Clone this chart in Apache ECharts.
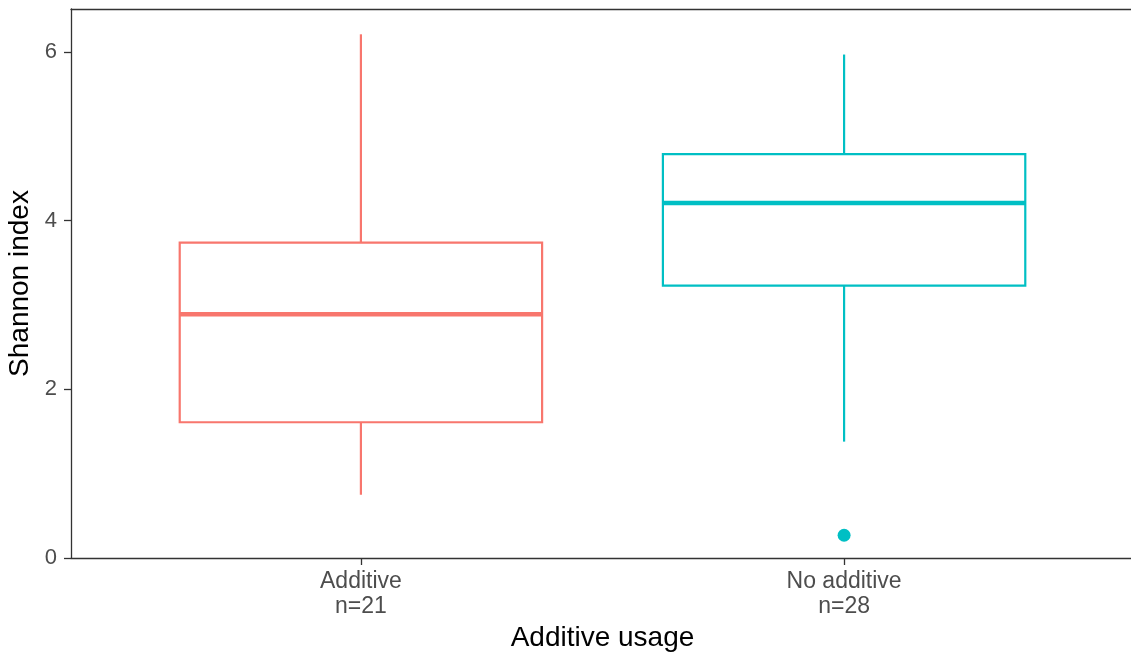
<!DOCTYPE html>
<html>
<head>
<meta charset="utf-8">
<script src="https://cdn.jsdelivr.net/npm/echarts@6/dist/echarts.min.js"></script>
<style>html,body{margin:0;padding:0;background:#fff;}#c{width:1131px;height:655px;}</style>
</head>
<body>
<div id="c"></div>
<script>
var categories = ['Additive', 'No additive'];
var counts = [21, 28];
var colors = ['#F8766D', '#00BFC4'];
// [lower whisker, Q1, median, Q3, upper whisker]
var boxStats = [
  [0.75, 1.61, 2.89, 3.74, 6.21],
  [1.38, 3.23, 4.21, 4.79, 5.97]
];
// outliers: [category index, value]
var outliers = [[1, 0.27]];
var yTicks = [0, 2, 4, 6];

var chart = echarts.init(document.getElementById('c'), null, {renderer: 'canvas'});
var fontFam = '"Liberation Sans", Arial, sans-serif';

var boxData = boxStats.map(function (s, i) { return [i + 1].concat(s); });

function renderBox(params, api) {
  var x = api.value(0);
  var lo = api.value(1), q1 = api.value(2), med = api.value(3), q3 = api.value(4), hi = api.value(5);
  var col = colors[params.dataIndex];
  var w = api.size([0.75, 0])[0];
  var pLo = api.coord([x, lo]), pQ1 = api.coord([x, q1]), pMed = api.coord([x, med]),
      pQ3 = api.coord([x, q3]), pHi = api.coord([x, hi]);
  var cx = pMed[0];
  return {
    type: 'group',
    children: [
      {type: 'line', shape: {x1: cx, y1: pLo[1], x2: cx, y2: pQ1[1]}, style: {stroke: col, lineWidth: 2.2}},
      {type: 'line', shape: {x1: cx, y1: pQ3[1], x2: cx, y2: pHi[1]}, style: {stroke: col, lineWidth: 2.2}},
      {type: 'rect', shape: {x: cx - w / 2, y: pQ3[1], width: w, height: pQ1[1] - pQ3[1]},
        style: {fill: '#ffffff', stroke: col, lineWidth: 2.2}},
      {type: 'line', shape: {x1: cx - w / 2, y1: pMed[1], x2: cx + w / 2, y2: pMed[1]}, style: {stroke: col, lineWidth: 4.5}}
    ]
  };
}

chart.setOption({
  animation: false,
  backgroundColor: '#ffffff',
  grid: {left: 71, right: -3, top: 9, bottom: 97, containLabel: false, outerBoundsMode: 'none'},
  xAxis: [{
    type: 'value', min: 0.4, max: 2.6, position: 'bottom',
    axisLine: {show: true, lineStyle: {color: '#333333', width: 1.3}},
    axisTick: {show: true, customValues: [1, 2], length: 7, lineStyle: {color: '#333333', width: 1.3}},
    axisLabel: {show: true, customValues: [1, 2], margin: 11, color: '#4d4d4d', fontSize: 23, fontFamily: fontFam, lineHeight: 25,
      formatter: function (v) { var i = Math.round(v) - 1; return categories[i] + '\nn=' + counts[i]; }},
    splitLine: {show: false},
    name: 'Additive usage', nameLocation: 'middle', nameGap: 66,
    nameTextStyle: {color: '#000000', fontSize: 28, fontFamily: fontFam}
  }, {
    type: 'value', min: 0.4, max: 2.6, position: 'top',
    axisLine: {show: true, lineStyle: {color: '#333333', width: 1.3}},
    axisTick: {show: false}, axisLabel: {show: false}, splitLine: {show: false}
  }],
  yAxis: {
    type: 'value', min: 0, max: 6.51,
    axisLine: {show: true, lineStyle: {color: '#333333', width: 1.3}},
    axisTick: {show: true, customValues: yTicks, length: 7, lineStyle: {color: '#333333', width: 1.3}},
    axisLabel: {show: true, customValues: yTicks, margin: 14, color: '#4d4d4d', fontSize: 22, fontFamily: fontFam},
    splitLine: {show: false},
    name: 'Shannon index', nameLocation: 'middle', nameGap: 32,
    nameTextStyle: {color: '#000000', fontSize: 28, fontFamily: fontFam}
  },
  series: [{
    type: 'custom', xAxisIndex: 0, yAxisIndex: 0,
    renderItem: renderBox,
    encode: {x: 0, y: [1, 2, 3, 4, 5]},
    data: boxData,
    clip: false
  }, {
    type: 'scatter', xAxisIndex: 0, yAxisIndex: 0,
    symbol: 'circle', symbolSize: 13,
    itemStyle: {opacity: 1, color: function (p) { return colors[p.data[0] - 1]; }},
    data: outliers.map(function (o) { return [o[0] + 1, o[1]]; }),
    z: 5
  }]
});
</script>
</body>
</html>
